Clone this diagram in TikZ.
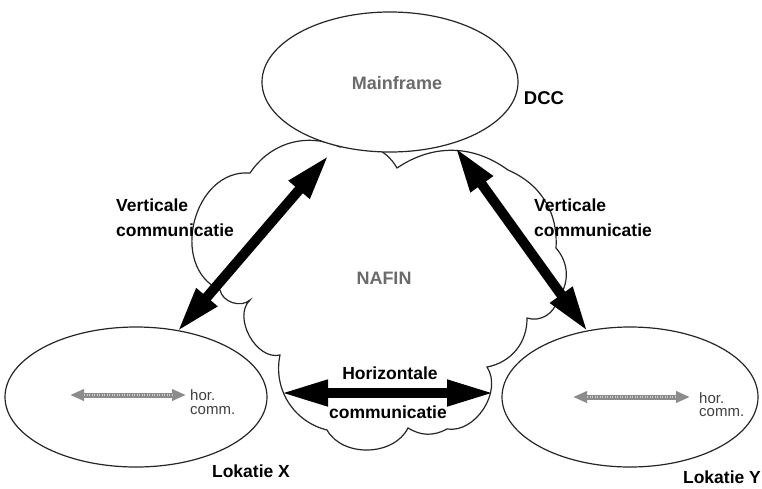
\documentclass[tikz,border=0pt]{standalone}
\usepackage{fontspec}
\setmainfont{Liberation Sans}
\usetikzlibrary{shapes.geometric,arrows.meta}
\begin{document}
\begin{tikzpicture}[x=1pt,y=-1pt,
  site/.style={draw=black!85, line width=1.2pt, fill=white, ellipse, inner sep=0pt},
  lbl/.style={font=\fontsize{17.5}{20}\selectfont\bfseries, text=black, inner sep=0pt},
  dimlbl/.style={font=\fontsize{18}{20}\selectfont\bfseries, text=black!58, inner sep=0pt},
  loclbl/.style={font=\fontsize{15}{16}\selectfont, text=black!75, inner sep=0pt, align=left, anchor=west},
  bigarrow/.style={line width=10pt, black, {Triangle[length=46pt,width=25pt]}-{Triangle[length=46pt,width=25pt]}},
  localarrow/.style={line width=5pt, black!45, {Triangle[length=14pt,width=11pt]}-{Triangle[length=14pt,width=11pt]}},
  grain/.style={line width=2pt, black!20, dash pattern=on 1pt off 1.5pt},
  cloudline/.style={draw=black!85, line width=1.2pt, fill=white}
]
\useasboundingbox[fill=white] (0,0) rectangle (762,488);

% NAFIN network cloud, traced clockwise from its upper left cusp
\path[cloudline]
  (250,173) to[bend left=40] (340,147)
            to[bend left=40] (397,168)
            to[bend left=35] (508,170)
            to[bend left=35] (556,248)
            to[bend left=40] (557,300)
            to[bend left=50] (527,318)
            to[bend left=40] (487,367)
            to[bend left=66] (447,429)
            to[bend left=30] (408,428)
            to[bend left=62] (327,430)
            to[bend left=44] (280,355)
            to[bend left=75] (250,300)
            to[bend left=60] (220,290)
            to[bend left=80, looseness=1.2] (250,173) -- cycle;

% sites
\node[site, minimum width=256pt, minimum height=140pt] (main) at (390,82) {};
\node[site, minimum width=262pt, minimum height=140pt] (locx) at (136,397) {};
\node[site, minimum width=256pt, minimum height=140pt] (locy) at (630,397) {};

% texts
\node[dimlbl] (mainlbl) at (397,83) {Mainframe};
\node[lbl, font=\fontsize{18.5}{20}\selectfont\bfseries] (dcc) at (544,98) {DCC};
\node[dimlbl] (nafin) at (384,278) {NAFIN};
\node[lbl, anchor=west] (vl1) at (116,205) {Verticale};
\node[lbl, anchor=west] (vl2) at (116,230) {communicatie};
\node[lbl, anchor=west] (vr1) at (534,205) {Verticale};
\node[lbl, anchor=west] (vr2) at (534,230) {communicatie};
\node[lbl] (h1) at (390,373) {Horizontale};
\node[lbl] (h2) at (388,412) {communicatie};
\node[lbl] (lx) at (251,471) {Lokatie X};
\node[lbl] (ly) at (722,477) {Lokatie Y};
\node[loclbl] (hx1) at (190,395) {hor.};
\node[loclbl] (hx2) at (190,411) {comm.};
\node[loclbl] (hy1) at (699,398) {hor.};
\node[loclbl] (hy2) at (699,413) {comm.};

% arrow end points
\coordinate (vlTop) at (329,155);
\coordinate (vlBot) at (177,332);
\coordinate (vrTop) at (455,147);
\coordinate (vrBot) at (588,332);
\coordinate (hL) at (280,393);
\coordinate (hR) at (495,393);
\coordinate (lxL) at (70,395);
\coordinate (lxR) at (186,395);
\coordinate (lyL) at (573,397);
\coordinate (lyR) at (690,397);

% communication arrows
\draw[bigarrow] (vlBot) -- (vlTop);
\draw[bigarrow] (vrTop) -- (vrBot);
\draw[bigarrow, {Triangle[length=48pt,width=24pt]}-{Triangle[length=48pt,width=24pt]}] (hL) -- (hR);

% local traffic inside each site
\draw[localarrow] (lxL) -- (lxR);
\draw[grain] ([xshift=14pt]lxL) -- ([xshift=-14pt]lxR);
\draw[localarrow] (lyL) -- (lyR);
\draw[grain] ([xshift=14pt]lyL) -- ([xshift=-14pt]lyR);
\end{tikzpicture}
\end{document}
